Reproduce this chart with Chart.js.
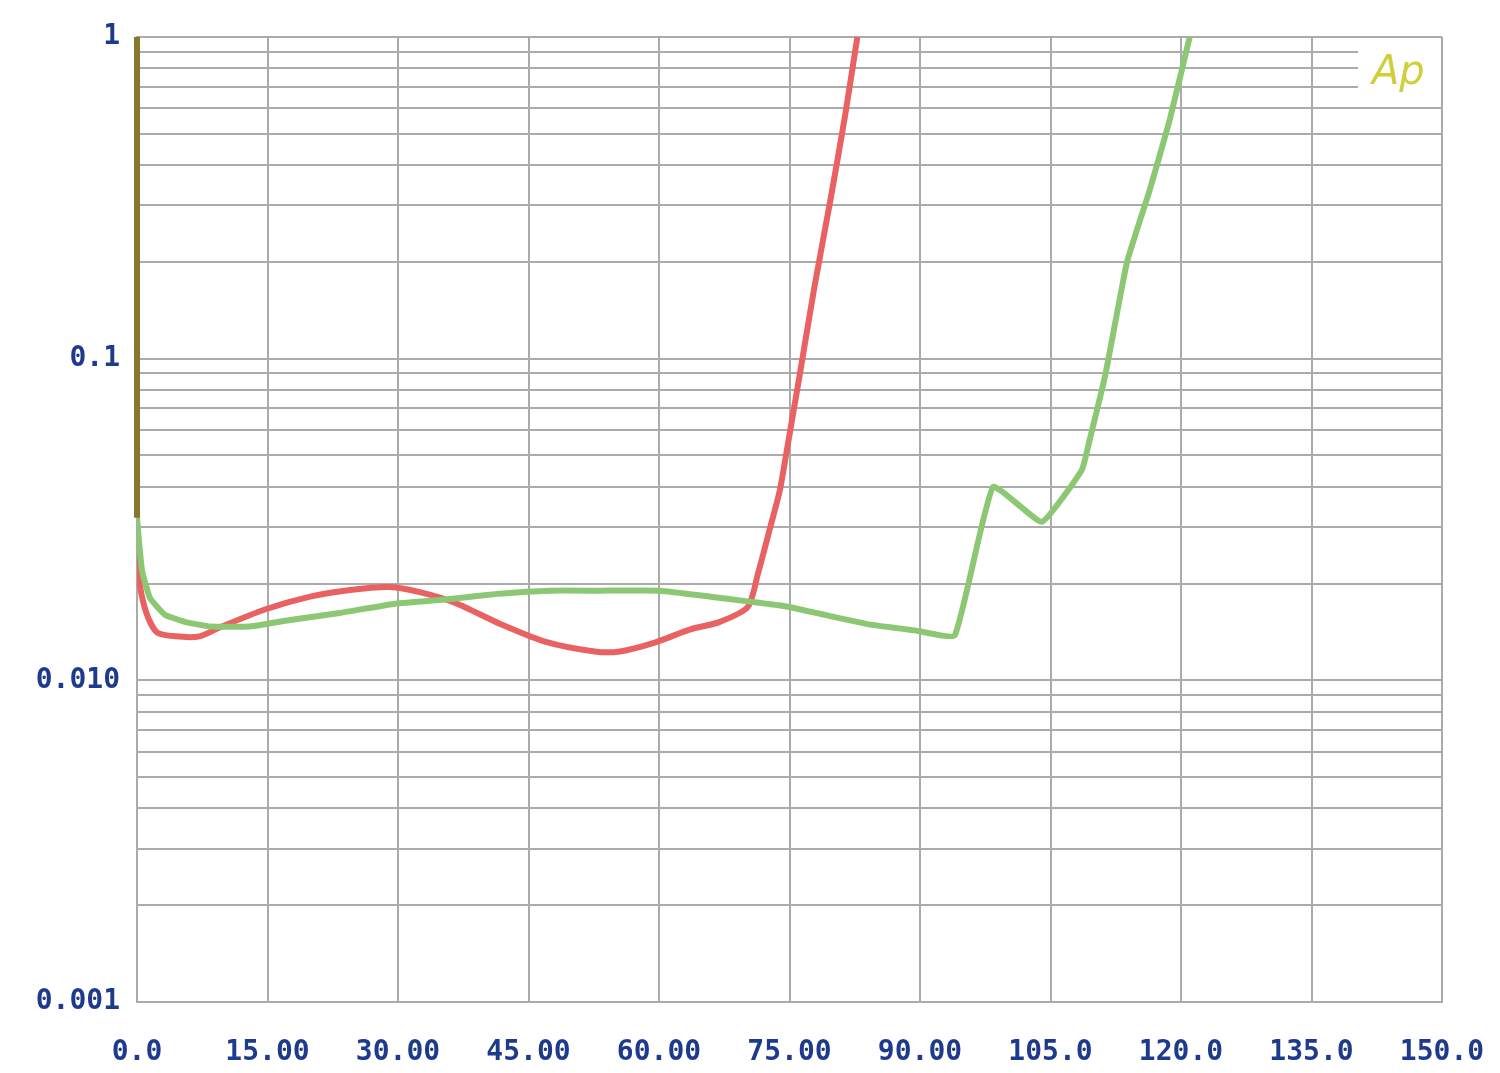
<!DOCTYPE html>
<html>
<head>
<meta charset="utf-8">
<script src="https://cdn.jsdelivr.net/npm/chart.js@4"></script>
<style>
  body { margin: 0; background: #fff; }
  canvas { display: block; }
</style>
</head>
<body>
<canvas id="chart" width="1500" height="1073"></canvas>
<script>
// data
const redX = [0, 0, 0.34, 1.15, 2.3, 4.4, 7.2, 9.5, 14.7, 19.9, 24.5, 29.1, 32.5, 36.6, 41.7, 46.9, 52.6, 55.5, 59.5, 63.6, 67.0, 70.2, 71.4, 72.8, 73.9, 74.7, 76.2, 77.9, 79.7, 81.4, 82.8];
const redY = [1, 0.0273, 0.0198, 0.0160, 0.0141, 0.0137, 0.0137, 0.0146, 0.0166, 0.0182, 0.0191, 0.0195, 0.0188, 0.0174, 0.0150, 0.0132, 0.0123, 0.0123, 0.0131, 0.0144, 0.0152, 0.0169, 0.0216, 0.030, 0.0391, 0.052, 0.090, 0.169, 0.311, 0.572, 1.0];

const greenX = [0, 0, 0.57, 1.5, 3.2, 5.5, 8.4, 13.0, 17.6, 23.3, 29.7, 36.0, 41.7, 47.5, 53.2, 60.1, 65.9, 70.2, 74.5, 78.5, 84.3, 89.4, 94.0, 98.4, 104.0, 108.6, 109.5, 111.3, 113.8, 116.4, 118.7, 121.0];
const greenY = [1, 0.0327, 0.0220, 0.0180, 0.0160, 0.0152, 0.0147, 0.0147, 0.0154, 0.0162, 0.0173, 0.0179, 0.0186, 0.0190, 0.0190, 0.0190, 0.0182, 0.0176, 0.0170, 0.0161, 0.0149, 0.0143, 0.0138, 0.0399, 0.0311, 0.0451, 0.0559, 0.089, 0.200, 0.334, 0.552, 1.0];

// where both traces run together at x = 0 they show as olive
const oliveX = [0, 0];
const oliveY = [1, 0.032];

const xTickLabels = ["0.0", "15.00", "30.00", "45.00", "60.00", "75.00", "90.00", "105.0", "120.0", "135.0", "150.0"];
const yDecades = [0.001, 0.01, 0.1, 1];
const yDecadeLabels = ["0.001", "0.010", "0.1", "1"];
const legendText = "Ap";

const toPoints = (xs, ys) => xs.map((x, i) => ({ x: x, y: ys[i] }));

const gridColor = "#ababab";
const labelColor = "#1d3a8c";
const labelFont = { family: "'DejaVu Sans Mono', monospace", size: 28, weight: "bold" };

// all 1..9 steps in each decade for the grid
const yGridValues = [];
yDecades.slice(0, 3).forEach(d => {
    for (let k = 1; k < 10; k++) yGridValues.push(d * k);
});
yGridValues.push(1);

const legendPlugin = {
    id: "apLegend",
    beforeDatasetsDraw(chart) {
        const ctx = chart.ctx;
        const right = chart.chartArea.right;
        // legend box top right, hides the short grid lines
        ctx.save();
        ctx.fillStyle = "#fff";
        ctx.fillRect(right - 84, 40, 83, 64);
        ctx.fillStyle = "#cfcf3a";
        ctx.font = "italic 40px 'DejaVu Sans'";
        ctx.textBaseline = "alphabetic";
        ctx.fillText(legendText, right - 70, 84);
        ctx.restore();
    }
};

new Chart(document.getElementById("chart"), {
    type: "line",
    data: {
        datasets: [
            {
                data: toPoints(redX, redY),
                borderColor: "#e86262",
                borderWidth: 6,
                pointRadius: 0,
                tension: 0.25,
                order: 2
            },
            {
                data: toPoints(greenX, greenY),
                borderColor: "#8cc873",
                borderWidth: 6,
                pointRadius: 0,
                tension: 0.12,
                order: 1
            },
            {
                data: toPoints(oliveX, oliveY),
                borderColor: "#86782c",
                borderWidth: 6,
                pointRadius: 0,
                tension: 0,
                clip: 8,
                order: 0
            }
        ]
    },
    options: {
        responsive: false,
        animation: false,
        layout: { padding: { top: 37, right: 58, left: 0, bottom: 0 } },
        plugins: {
            legend: { display: false },
            tooltip: { enabled: false }
        },
        scales: {
            x: {
                type: "linear",
                min: 0,
                max: 150,
                afterFit: s => { s.height = 71; s.paddingLeft = 0; s.paddingRight = 0; },
                ticks: {
                    stepSize: 15,
                    color: labelColor,
                    font: labelFont,
                    padding: 34,
                    maxRotation: 0,
                    callback: (v) => xTickLabels[Math.round(v / 15)]
                },
                grid: { color: gridColor, lineWidth: 2, drawTicks: false },
                border: { color: gridColor, width: 2 }
            },
            y: {
                type: "logarithmic",
                min: 0.001,
                max: 1,
                afterFit: s => { s.width = 137; s.paddingTop = 0; s.paddingBottom = 0; },
                afterBuildTicks: s => {
                    s.ticks = yGridValues.map(v => ({ value: v }));
                },
                ticks: {
                    autoSkip: false,
                    color: labelColor,
                    font: labelFont,
                    padding: 17,
                    callback: (v) => {
                        const i = yDecades.findIndex(d => Math.abs(d - v) / d < 1e-6);
                        return i >= 0 ? yDecadeLabels[i] : "";
                    }
                },
                grid: { color: gridColor, lineWidth: 2, drawTicks: false },
                border: { color: gridColor, width: 2 }
            }
        }
    },
    plugins: [legendPlugin]
});
</script>
</body>
</html>
